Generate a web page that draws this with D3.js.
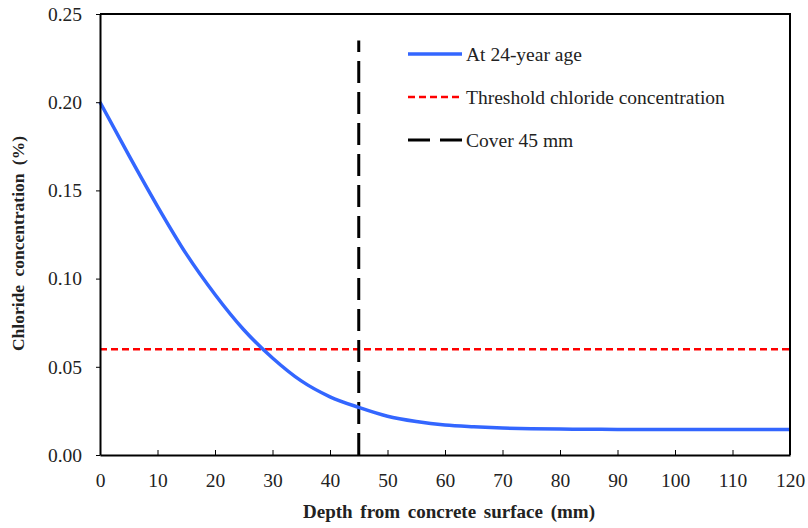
<!DOCTYPE html>
<html>
<head>
<meta charset="utf-8">
<script src="https://cdn.jsdelivr.net/npm/d3@7"></script>
<style>
  body { margin: 0; background: #fff; }
  svg { display: block; font-family: "Liberation Serif", "Times New Roman", serif; }
</style>
</head>
<body>
<div id="chart"></div>
<script>
// data
var depth = [0, 5, 10, 15, 20, 25, 30, 35, 40, 45, 50, 55, 60, 65, 70, 75, 80, 85, 90, 95, 100, 105, 110, 115, 120];
var chloride = [0.200, 0.170, 0.141, 0.114, 0.091, 0.071, 0.055, 0.042, 0.033, 0.027, 0.022, 0.019, 0.017, 0.016, 0.0153, 0.0149, 0.0147, 0.0146, 0.0145, 0.0145, 0.0145, 0.0145, 0.0145, 0.0145, 0.0145];
var threshold = 0.06;
var coverDepth = 45;
var coverTop = 0.235;
var xTicks = [0, 10, 20, 30, 40, 50, 60, 70, 80, 90, 100, 110, 120];
var yTicks = [0, 0.05, 0.10, 0.15, 0.20, 0.25];
var legendLabels = ["At 24-year age", "Threshold chloride concentration", "Cover 45 mm"];

// set the dimensions and margins of the graph
var margin = { top: 14, right: 18, bottom: 73, left: 100 },
    width = 808 - margin.left - margin.right,
    height = 528 - margin.top - margin.bottom;

var svg = d3.select("#chart")
    .append("svg")
    .attr("width", 808)
    .attr("height", 528)
    .append("g")
    .attr("transform", "translate(" + margin.left + "," + margin.top + ")");

var x = d3.scaleLinear().domain([0, 120]).range([0, width]);
var y = d3.scaleLinear().domain([0, 0.25]).range([height, 0]);

// threshold line
svg.append("path")
    .datum([0, 120])
    .attr("d", d3.line().x(d => x(d)).y(() => y(threshold)))
    .attr("stroke", "#ff0000")
    .attr("stroke-width", 2.5)
    .attr("stroke-dasharray", "7,4")
    .attr("fill", "none");

// cover line (drawn bottom up)
svg.append("path")
    .datum([0, coverTop])
    .attr("d", d3.line().x(() => x(coverDepth)).y(d => y(d)))
    .attr("stroke", "#000")
    .attr("stroke-width", 3)
    .attr("stroke-dasharray", "22,9")
    .attr("fill", "none");

// chloride profile
var data = depth.map((d, i) => ({ x: d, y: chloride[i] }));
svg.append("path")
    .datum(data)
    .attr("d", d3.line().x(d => x(d.x)).y(d => y(d.y)).curve(d3.curveMonotoneX))
    .attr("stroke", "#3366ff")
    .attr("stroke-width", 3.5)
    .attr("fill", "none");

// axes
var xAxis = svg.append("g")
    .attr("transform", "translate(0," + height + ")")
    .call(d3.axisBottom(x).tickValues(xTicks).tickSizeInner(-5).tickSizeOuter(0).tickPadding(18));
var yAxis = svg.append("g")
    .call(d3.axisLeft(y).tickValues(yTicks).tickFormat(d3.format(".2f")).tickSizeInner(4).tickSizeOuter(0).tickPadding(14));

[xAxis, yAxis].forEach(function (a) {
    a.select(".domain").attr("stroke", "#000").attr("stroke-width", 2);
    a.selectAll(".tick line").attr("stroke", "#000").attr("stroke-width", 1);
    a.selectAll("text")
        .attr("font-family", "Liberation Serif, Times New Roman, serif")
        .attr("font-size", 19.5)
        .attr("fill", "#222");
});

// frame top and right
svg.append("path")
    .attr("d", "M0," + y(0.25) + "H" + x(120) + "V" + y(0))
    .attr("stroke", "#000")
    .attr("stroke-width", 2)
    .attr("fill", "none");

// axis titles
svg.append("text")
    .attr("x", width / 2 + 4)
    .attr("y", height + 63)
    .attr("text-anchor", "middle")
    .attr("font-weight", "bold")
    .attr("font-size", 19)
    .attr("word-spacing", 3)
    .attr("fill", "#222")
    .text("Depth from concrete surface (mm)");

svg.append("text")
    .attr("transform", "translate(" + (-76) + "," + (height / 2 + 9) + ") rotate(-90)")
    .attr("text-anchor", "middle")
    .attr("font-weight", "bold")
    .attr("font-size", 17.5)
    .attr("word-spacing", 4)
    .attr("fill", "#222")
    .text("Chloride concentration (%)");

// legend
var legend = svg.append("g").attr("transform", "translate(" + (408 - margin.left) + "," + (54 - margin.top) + ")");
var styles = [
    { color: "#3366ff", width: 3.5, dash: null },
    { color: "#ff0000", width: 2.5, dash: "7,4" },
    { color: "#000", width: 3, dash: "22,10" }
];
legendLabels.forEach(function (lab, i) {
    var g = legend.append("g").attr("transform", "translate(0," + (i * 43) + ")");
    g.append("line")
        .attr("x1", 0).attr("x2", 54)
        .attr("stroke", styles[i].color)
        .attr("stroke-width", styles[i].width)
        .attr("stroke-dasharray", styles[i].dash);
    g.append("text")
        .attr("x", 58)
        .attr("y", 7)
        .attr("font-size", 19.5)
        .attr("fill", "#222")
        .text(lab);
});
</script>
</body>
</html>
